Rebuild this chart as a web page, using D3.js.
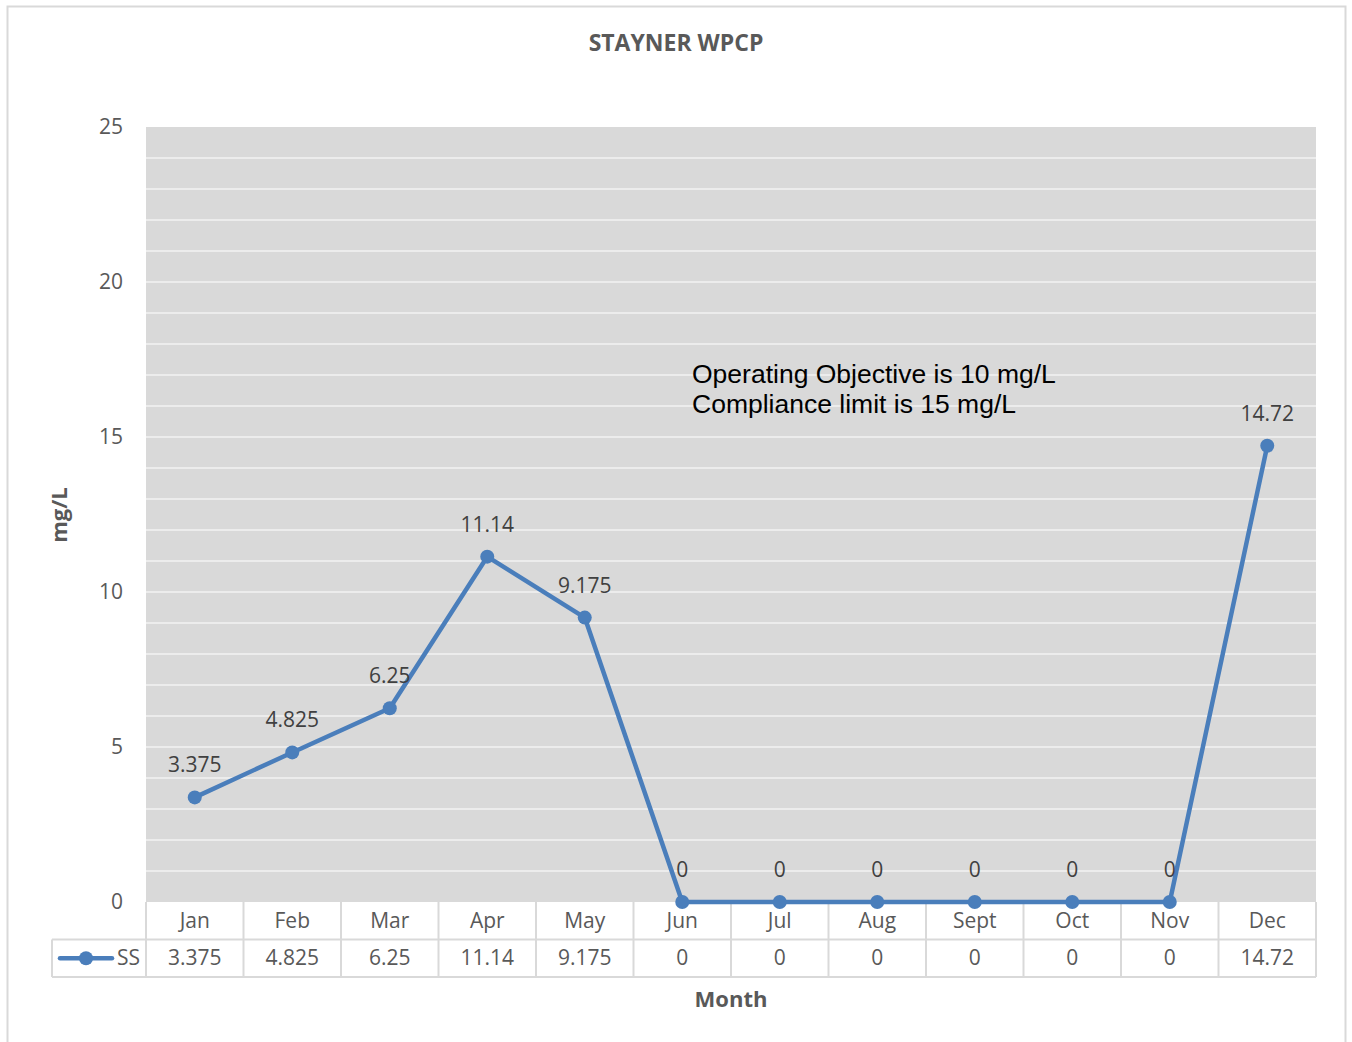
<!DOCTYPE html>
<html>
<head>
<meta charset="utf-8">
<script src="https://cdn.jsdelivr.net/npm/d3@7"></script>
<style>
  body { margin: 0; background: #fff; }
  text { font-family: "Open Sans", "Noto Sans", sans-serif; }
</style>
</head>
<body>
<div id="chart"></div>
<script>
var months = ["Jan", "Feb", "Mar", "Apr", "May", "Jun", "Jul", "Aug", "Sept", "Oct", "Nov", "Dec"];
var ssValues = [3.375, 4.825, 6.25, 11.14, 9.175, 0, 0, 0, 0, 0, 0, 14.72];
var ssLabels = ["3.375", "4.825", "6.25", "11.14", "9.175", "0", "0", "0", "0", "0", "0", "14.72"];
var yTicks = [0, 5, 10, 15, 20, 25];
var noteLines = ["Operating Objective is 10 mg/L", "Compliance limit is 15 mg/L"];

function init() {
    var W = 1352, H = 1042;
    var plot = {left: 146, right: 1316, top: 127, bottom: 902};
    var rowH = 37.5;
    var blue = "#4a7ebb";
    var grey = "#595959";
    var fs = "21px";

    var svg = d3.select("#chart").append("svg")
        .attr("width", W)
        .attr("height", H);

    // outer chart frame
    svg.append("rect")
        .attr("x", 7.5).attr("y", 6.5)
        .attr("width", 1338).attr("height", 1040)
        .attr("fill", "#fff")
        .attr("stroke", "#d9d9d9")
        .attr("stroke-width", 2);

    var x = d3.scaleBand()
        .domain(months)
        .range([plot.left, plot.right]);

    var y = d3.scaleLinear()
        .domain([0, 25])
        .range([plot.bottom, plot.top]);

    // plot background
    svg.append("rect")
        .attr("x", plot.left).attr("y", plot.top)
        .attr("width", plot.right - plot.left)
        .attr("height", plot.bottom - plot.top)
        .attr("fill", "#d9d9d9");

    // gridlines (major + minor, every 1 unit)
    svg.append("g")
        .selectAll("line")
        .data(d3.range(1, 25))
        .enter()
        .append("line")
        .attr("x1", plot.left).attr("x2", plot.right)
        .attr("y1", function (d) { return y(d); })
        .attr("y2", function (d) { return y(d); })
        .attr("stroke", "#ececec")
        .attr("stroke-width", 2);

    // y axis labels
    var yAxis = svg.append("g")
        .attr("transform", "translate(" + plot.left + ",0)")
        .call(d3.axisLeft(y).tickValues(yTicks).tickSize(0).tickPadding(23));
    yAxis.select(".domain").remove();
    yAxis.selectAll("text")
        .attr("fill", grey)
        .style("font-size", fs);

    // title
    svg.append("text")
        .attr("x", 676).attr("y", 51)
        .attr("text-anchor", "middle")
        .attr("fill", grey)
        .style("font-size", "23px")
        .style("font-weight", "bold")
        .text("STAYNER WPCP");

    // y axis title
    svg.append("text")
        .attr("transform", "translate(67,515) rotate(-90)")
        .attr("text-anchor", "middle")
        .attr("fill", grey)
        .style("font-size", "22px")
        .style("font-weight", "bold")
        .text("mg/L");

    // x axis title
    svg.append("text")
        .attr("x", (plot.left + plot.right) / 2)
        .attr("y", 1007)
        .attr("text-anchor", "middle")
        .attr("fill", grey)
        .style("font-size", "22px")
        .style("font-weight", "bold")
        .text("Month");

    // data table
    var table = svg.append("g");
    var tableTop = plot.bottom;
    var tableBottom = tableTop + 2 * rowH;
    var legendLeft = 52;

    var vx = months.map(function (m) { return x(m); }).concat([plot.right]);
    table.selectAll("line.v")
        .data(vx)
        .enter()
        .append("line")
        .attr("x1", function (d) { return d; })
        .attr("x2", function (d) { return d; })
        .attr("y1", tableTop)
        .attr("y2", tableBottom)
        .attr("stroke", "#d9d9d9")
        .attr("stroke-width", 2);
    table.append("line")
        .attr("x1", legendLeft).attr("x2", legendLeft)
        .attr("y1", tableTop + rowH).attr("y2", tableBottom)
        .attr("stroke", "#d9d9d9").attr("stroke-width", 2);
    table.append("line")
        .attr("x1", legendLeft).attr("x2", plot.right)
        .attr("y1", tableTop + rowH).attr("y2", tableTop + rowH)
        .attr("stroke", "#d9d9d9").attr("stroke-width", 2);
    table.append("line")
        .attr("x1", legendLeft).attr("x2", plot.right)
        .attr("y1", tableBottom).attr("y2", tableBottom)
        .attr("stroke", "#d9d9d9").attr("stroke-width", 2);

    table.selectAll("text.month")
        .data(months)
        .enter()
        .append("text")
        .attr("x", function (d) { return x(d) + x.bandwidth() / 2; })
        .attr("y", tableTop + rowH / 2 + 7)
        .attr("text-anchor", "middle")
        .attr("fill", grey)
        .style("font-size", fs)
        .text(function (d) { return d; });

    table.selectAll("text.val")
        .data(ssLabels)
        .enter()
        .append("text")
        .attr("x", function (d, i) { return x(months[i]) + x.bandwidth() / 2; })
        .attr("y", tableTop + rowH * 1.5 + 7)
        .attr("text-anchor", "middle")
        .attr("fill", grey)
        .style("font-size", fs)
        .text(function (d) { return d; });

    // legend key in table
    var ly = tableTop + rowH * 1.5;
    table.append("line")
        .attr("x1", 60).attr("x2", 112)
        .attr("y1", ly).attr("y2", ly)
        .attr("stroke", blue).attr("stroke-width", 4.5)
        .attr("stroke-linecap", "round");
    table.append("circle")
        .attr("cx", 86).attr("cy", ly).attr("r", 7)
        .attr("fill", blue);
    table.append("text")
        .attr("x", 117).attr("y", ly + 7)
        .attr("fill", grey)
        .style("font-size", fs)
        .text("SS");

    // series line
    var line = d3.line()
        .x(function (d, i) { return x(months[i]) + x.bandwidth() / 2; })
        .y(function (d) { return y(d); });

    svg.append("path")
        .datum(ssValues)
        .attr("d", line)
        .attr("fill", "none")
        .attr("stroke", blue)
        .attr("stroke-width", 4.5)
        .attr("stroke-linejoin", "round");

    svg.selectAll("circle.pt")
        .data(ssValues)
        .enter()
        .append("circle")
        .attr("cx", function (d, i) { return x(months[i]) + x.bandwidth() / 2; })
        .attr("cy", function (d) { return y(d); })
        .attr("r", 7)
        .attr("fill", blue);

    // data labels
    svg.selectAll("text.lbl")
        .data(ssValues)
        .enter()
        .append("text")
        .attr("x", function (d, i) { return x(months[i]) + x.bandwidth() / 2; })
        .attr("y", function (d) { return y(d) - 25; })
        .attr("text-anchor", "middle")
        .attr("fill", "#404040")
        .style("font-size", fs)
        .text(function (d, i) { return ssLabels[i]; });

    // annotation
    svg.selectAll("text.note")
        .data(noteLines)
        .enter()
        .append("text")
        .attr("x", 692)
        .attr("y", function (d, i) { return 383 + i * 30; })
        .attr("fill", "#000")
        .style("font-family", "'Liberation Sans', Arial, sans-serif")
        .style("font-size", "26.5px")
        .text(function (d) { return d; });
}

window.onload = init;
</script>
</body>
</html>
